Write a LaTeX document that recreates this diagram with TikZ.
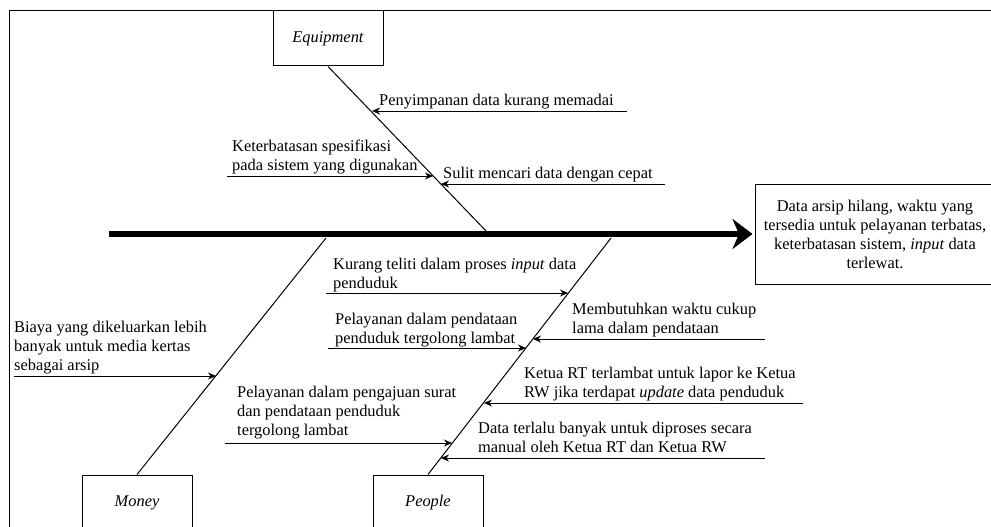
\documentclass[tikz,border=0pt]{standalone}
\usepackage{fontspec}
\setmainfont{Liberation Serif}
\usetikzlibrary{arrows.meta}
\tikzset{
  head/.style={draw, line width=1pt, minimum width=110pt, minimum height=55pt, inner sep=0pt,
    font={\fontsize{16.4}{19}\selectfont\itshape}},
  cause/.style={anchor=north west, inner sep=0pt, align=left},
  bone/.style={line width=1pt},
  twig/.style={line width=1pt, -{Stealth[length=8pt,width=7pt]}},
  spine/.style={line width=5.5pt, -{Stealth[length=20pt,width=30pt]}}
}

\begin{document}
\begin{tikzpicture}[x=1pt,y=-1pt,font={\fontsize{16.4}{19}\selectfont}]
    \clip (0,0) rectangle (991,527);
    \draw[line width=1pt] (9,11) rectangle (1010,560);

    % heads
    \node[head] (equip) at (328,38.5) {Equipment};
    \node[head] (money) at (137,502.5) {Money};
    \node[head] (people) at (428,502.5) {People};
    \node[draw, line width=1pt, minimum width=240pt, minimum height=100pt, align=center] (effect) at (875,234)
        {Data arsip hilang, waktu yang\\tersedia untuk pelayanan terbatas,\\keterbatasan sistem, \textit{input} data\\terlewat.};

    % spine and bones
    \coordinate (tail) at (109,234);
    \coordinate (eqend) at (487,232);
    \coordinate (moend) at (326,238);
    \coordinate (peend) at (611,238);
    \draw[spine] (tail) -- ([xshift=-2pt]effect.west);
    \draw[bone] (equip.south) -- (eqend);
    \draw[bone] (moend) -- (money.north);
    \draw[bone] (peend) -- (people.north);

    % equipment causes
    \node[cause] (e1) at (379,93.5) {Penyimpanan data kurang memadai};
    \node[cause] (e2) at (232,139.5) {Keterbatasan spesifikasi\\pada sistem yang digunakan};
    \node[cause] (e3) at (443,166.5) {Sulit mencari data dengan cepat};
    \coordinate (e1s) at (627,111);  \coordinate (e1t) at (372,111);
    \coordinate (e2s) at (227,176);  \coordinate (e2t) at (433,176);
    \coordinate (e3s) at (665,184);  \coordinate (e3t) at (441,184);
    \draw[twig] (e1s) -- (e1t);
    \draw[twig] (e2s) -- (e2t);
    \draw[twig] (e3s) -- (e3t);

    % money causes
    \node[cause] (m1) at (14,320.5) {Biaya yang dikeluarkan lebih\\banyak untuk media kertas\\sebagai arsip};
    \coordinate (m1s) at (14,376);  \coordinate (m1t) at (216,376);
    \draw[twig] (m1s) -- (m1t);

    % people causes
    \node[cause] (p1) at (333,257.5) {Kurang teliti dalam proses \textit{input} data\\penduduk};
    \node[cause] (p2) at (335,312.5) {Pelayanan dalam pendataan\\penduduk tergolong lambat};
    \node[cause] (p3) at (237,385.5) {Pelayanan dalam pengajuan surat\\dan pendataan penduduk\\tergolong lambat};
    \node[cause] (p4) at (572,302.5) {Membutuhkan waktu cukup\\lama dalam pendataan};
    \node[cause] (p5) at (524,366.5) {Ketua RT terlambat untuk lapor ke Ketua\\RW jika terdapat \textit{update} data penduduk};
    \node[cause] (p6) at (478,421.5) {Data terlalu banyak untuk diproses secara\\manual oleh Ketua RT dan Ketua RW};
    \coordinate (p1s) at (326,293);  \coordinate (p1t) at (568,293);
    \coordinate (p2s) at (328,348);  \coordinate (p2t) at (526,348);
    \coordinate (p3s) at (225,443);  \coordinate (p3t) at (452,443);
    \coordinate (p4s) at (765,339);  \coordinate (p4t) at (533,339);
    \coordinate (p5s) at (803,403);  \coordinate (p5t) at (484,403);
    \coordinate (p6s) at (765,458);  \coordinate (p6t) at (441,458);
    \draw[twig] (p1s) -- (p1t);
    \draw[twig] (p2s) -- (p2t);
    \draw[twig] (p3s) -- (p3t);
    \draw[twig] (p4s) -- (p4t);
    \draw[twig] (p5s) -- (p5t);
    \draw[twig] (p6s) -- (p6t);
\end{tikzpicture}
\end{document}
